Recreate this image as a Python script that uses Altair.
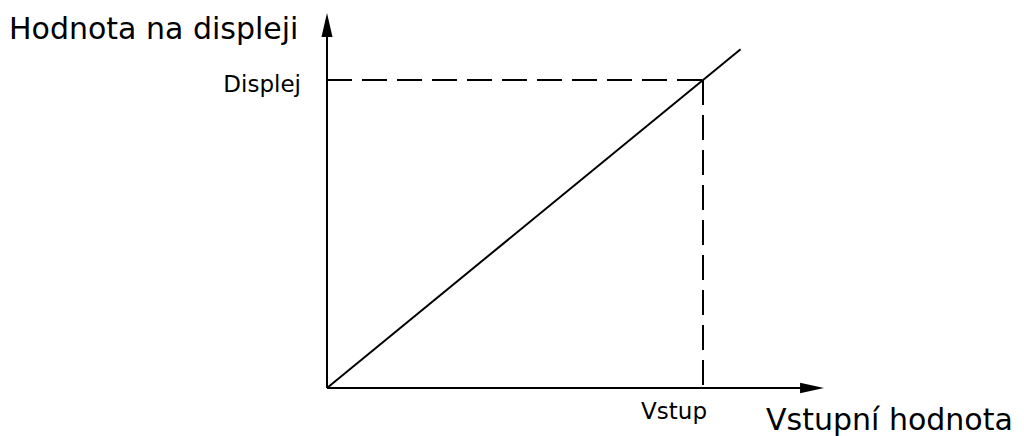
import altair as alt
import pandas as pd

# ---- data (conceptual units: input value -> displayed value) ----
line_input = [0.0, 1.1]
line_display = [0.0, 1.1]
marker_input = [1.0]        # "Vstup"
marker_display = [1.0]      # "Displej"
x_axis_end = [1.30]
y_axis_end = [1.19]
x_arrow_pos = [1.29]
y_arrow_pos = [1.1786]
y_title = ["Hodnota na displeji"]
x_title = ["Vstupní hodnota"]
y_label = ["Displej"]
x_label = ["Vstup"]

FONT = "DejaVu Sans"
X_DOM = [-0.8484, 1.83245]
Y_DOM = [-0.15584, 1.23377]

xs = alt.Scale(domain=X_DOM, nice=False, zero=False)
ys = alt.Scale(domain=Y_DOM, nice=False, zero=False)


def X(f):
    return alt.X(f, type="quantitative", scale=xs, axis=None)


def Y(f):
    return alt.Y(f, type="quantitative", scale=ys, axis=None)


line_df = pd.DataFrame({"x": line_input, "y": line_display})
axes_h = pd.DataFrame({"x": [0.0], "x2": x_axis_end, "y": [0.0]})
axes_v = pd.DataFrame({"x": [0.0], "y": [0.0], "y2": y_axis_end})
dash_h = pd.DataFrame({"x": [0.0], "x2": marker_input, "y": marker_display})
dash_v = pd.DataFrame({"x": marker_input, "y": marker_display, "y2": [0.0]})
xarrow = pd.DataFrame({"x": x_arrow_pos, "y": [0.0]})
yarrow = pd.DataFrame({"x": [0.0], "y": y_arrow_pos})

diag = alt.Chart(line_df).mark_line(color="black", strokeWidth=2).encode(
    x=X("x"), y=Y("y"))

hax = alt.Chart(axes_h).mark_rule(color="black", strokeWidth=2).encode(
    x=X("x"), x2="x2", y=Y("y"))
vax = alt.Chart(axes_v).mark_rule(color="black", strokeWidth=2).encode(
    x=X("x"), y=Y("y"), y2="y2")

hd = alt.Chart(dash_h).mark_rule(color="black", strokeWidth=2, strokeDash=[25, 10]).encode(
    x=X("x"), x2="x2", y=Y("y"))
vd = alt.Chart(dash_v).mark_rule(color="black", strokeWidth=2, strokeDash=[25, 10]).encode(
    x=X("x"), y=Y("y"), y2="y2")

xa = alt.Chart(xarrow).mark_point(
    shape="M1,0L-1,-0.44L-1,0.44Z", filled=True, size=576, color="black", opacity=1
).encode(x=X("x"), y=Y("y"))
ya = alt.Chart(yarrow).mark_point(
    shape="M0,-1L0.46,1L-0.46,1Z", filled=True, size=576, color="black", opacity=1
).encode(x=X("x"), y=Y("y"))

ytitle = alt.Chart(pd.DataFrame({"x": [0.0], "y": [1.218], "t": y_title})).mark_text(
    align="left", baseline="alphabetic", dx=-318, dy=26, font=FONT, fontSize=30, color="black"
).encode(x=X("x"), y=Y("y"), text="t:N")

xtitle = alt.Chart(pd.DataFrame({"x": [1.322], "y": [0.0], "t": x_title})).mark_text(
    align="left", baseline="alphabetic", dx=-58, dy=42, font=FONT, fontSize=30, color="black"
).encode(x=X("x"), y=Y("y"), text="t:N")

ylab = alt.Chart(pd.DataFrame({"x": [0.0], "y": marker_display, "t": y_label})).mark_text(
    align="right", baseline="alphabetic", dx=-26, dy=12, font=FONT, fontSize=23, color="black"
).encode(x=X("x"), y=Y("y"), text="t:N")

xlab = alt.Chart(pd.DataFrame({"x": marker_input, "y": [0.0], "t": x_label})).mark_text(
    align="right", baseline="alphabetic", dx=4, dy=31, font=FONT, fontSize=23, color="black"
).encode(x=X("x"), y=Y("y"), text="t:N")

chart = alt.layer(hd, vd, diag, hax, vax, xa, ya, ytitle, xtitle, ylab, xlab).properties(
    width=1008, height=428, padding=0, autosize=alt.AutoSizeParams(type="none")
).configure_view(stroke=None)

chart.save("out.html", embed_options={"renderer": "svg", "actions": False})
